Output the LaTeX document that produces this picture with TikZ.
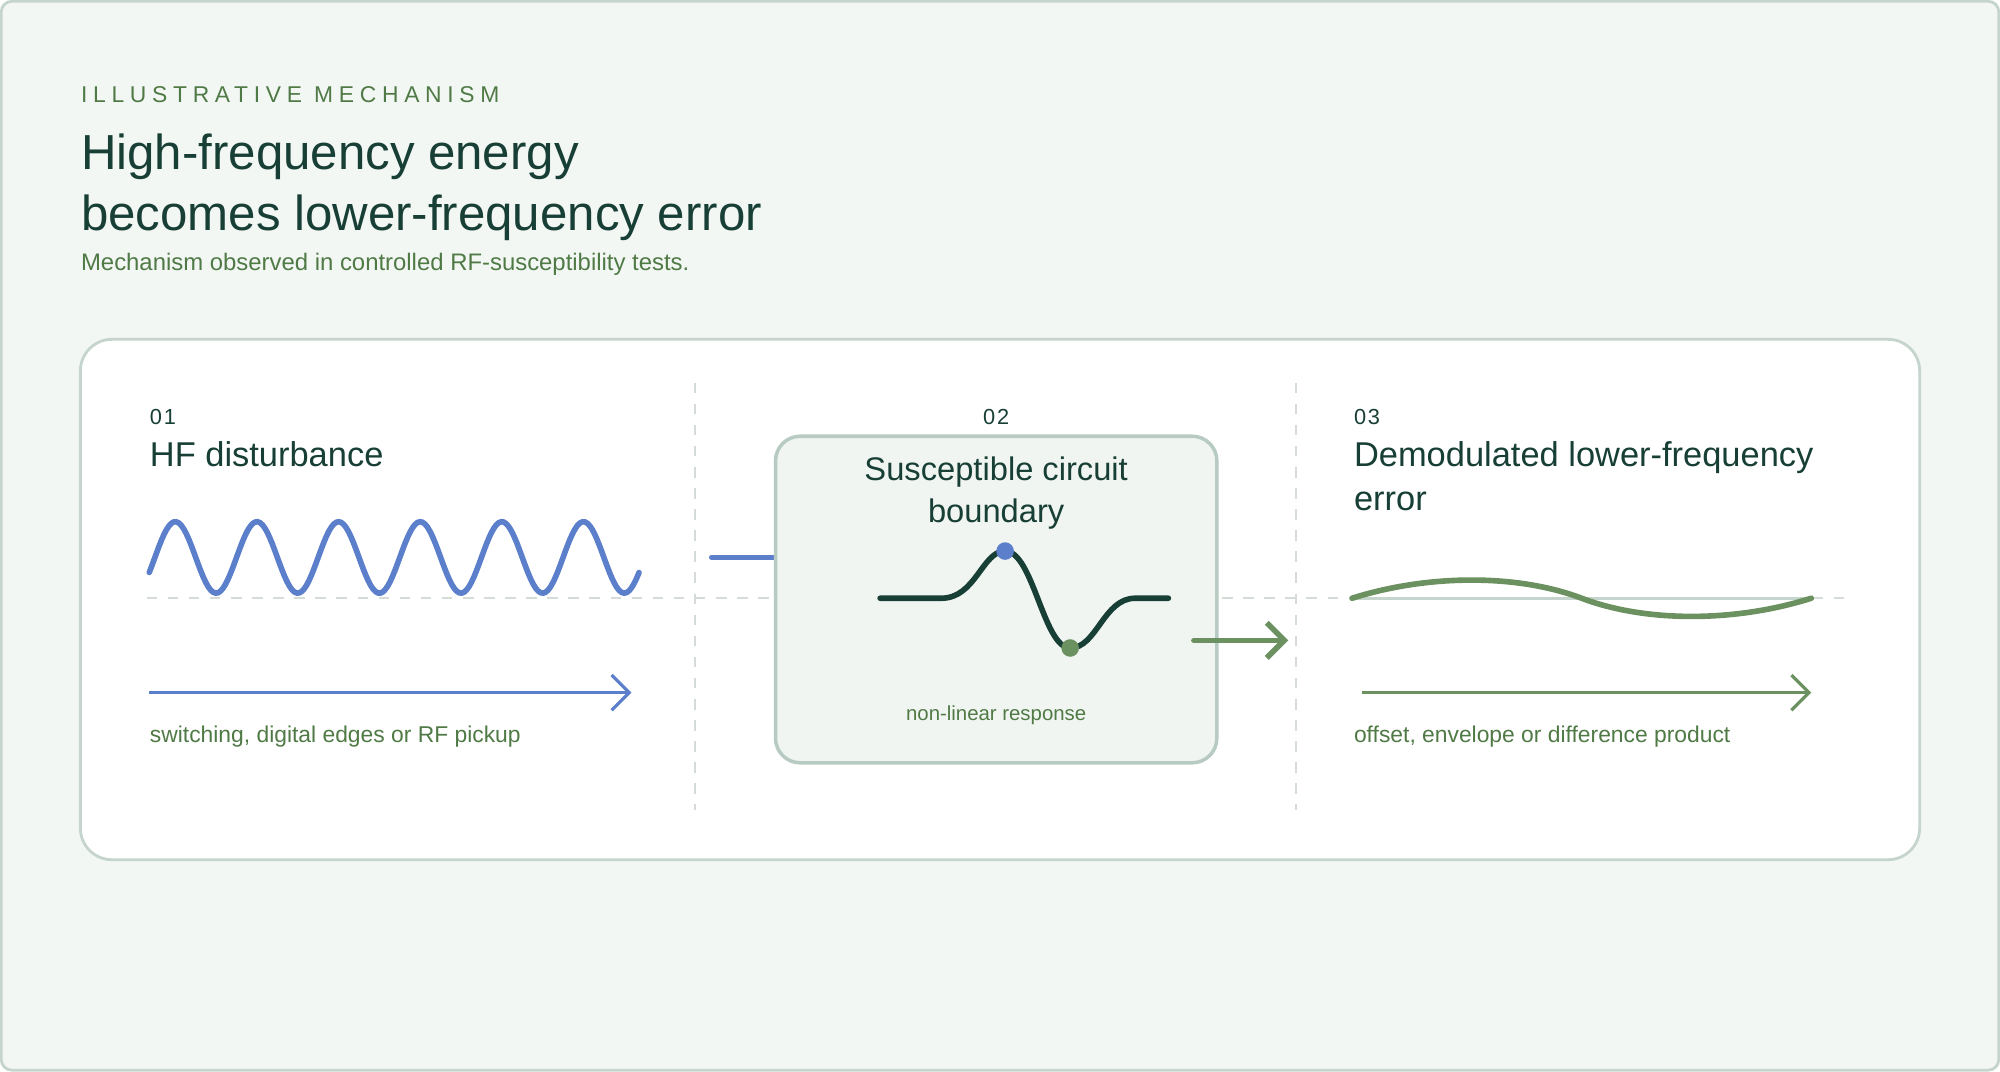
\documentclass[tikz,border=0pt]{standalone}
\usepackage{fontspec}
\setmainfont{Liberation Sans}
\usetikzlibrary{arrows.meta}
\definecolor{ink}{HTML}{173F35}
\definecolor{leaf}{HTML}{4F7A45}
\definecolor{wave}{HTML}{5B7FCA}
\definecolor{moss}{HTML}{6B9160}
\definecolor{rim}{HTML}{C5D5CD}
\definecolor{boxfill}{HTML}{F1F5F1}
\definecolor{boxrim}{HTML}{B8CBC2}
\definecolor{guide}{HTML}{D5DCD8}
\definecolor{paper}{HTML}{F3F7F4}
\tikzset{
  txt/.style={inner sep=0pt, anchor=base west},
  num/.style={txt, text=ink, font=\fontsize{6.2}{7}\selectfont\addfontfeatures{LetterSpace=8}},
  stage/.style={txt, text=ink, font=\fontsize{9.8}{12}\selectfont},
  note/.style={txt, text=leaf, font=\fontsize{6.5}{8}\selectfont},
  guideline/.style={guide, line width=0.5pt, dash pattern=on 3pt off 3pt},
  barb/.style={-{Straight Barb[length=5pt, width=10pt]}},
}
\begin{document}
\begin{tikzpicture}[x=0.012755cm, y=-0.012755cm]
    \useasboundingbox (0,0) rectangle (1568,840);
    % frame and panel
    \draw[rim, fill=paper, line width=0.8pt, rounded corners=3pt] (1,1) rectangle (1567,839);
    \draw[rim, fill=white, line width=0.8pt, rounded corners=9pt] (63,266) rectangle (1505,674);

    % heading
    \node[txt, text=leaf, font=\fontsize{6.5}{8}\selectfont\addfontfeatures{LetterSpace=25}] (kicker) at (63,80) {ILLUSTRATIVE MECHANISM};
    \node[txt, text=ink, font=\fontsize{14}{17}\selectfont] (title1) at (63,133) {High-frequency energy};
    \node[txt, text=ink, font=\fontsize{14}{17}\selectfont] (title2) at (63,181) {becomes lower-frequency error};
    \node[note, font=\fontsize{6.8}{8}\selectfont] (sub) at (63,212) {Mechanism observed in controlled RF-susceptibility tests.};

    % guides
    \draw[guideline] (115,469) -- (1450,469);
    \draw[guideline] (545,300) -- (545,635);
    \draw[guideline] (1016,300) -- (1016,635);

    % step 1
    \node[num] (n1) at (117,333) {01};
    \node[stage] (s1) at (117,366) {HF disturbance};
    \draw[wave, line width=1.6pt, line cap=round, domain=0:384, samples=200]
        plot ({117+\x}, {437 - 28*sin(5.625*\x - 25)});
    \coordinate (a1) at (117,543);
    \coordinate (b1) at (495,543);
    \draw[wave, line width=0.9pt, barb] (a1) -- (b1);
    \node[note] (l1) at (117,582) {switching, digital edges or RF pickup};

    % step 2
    \coordinate (a2) at (558,437);
    \coordinate (b2) at (628,437);
    \draw[wave, line width=1.6pt, barb, line cap=round] (a2) -- (b2);
    \draw[boxrim, fill=boxfill, line width=1pt, rounded corners=7pt] (608,342) rectangle (954,598);
    \node[num, anchor=base] (n2) at (781,333) {02};
    \node[stage, anchor=base, font=\fontsize{9.3}{12}\selectfont] (s2a) at (781,377) {Susceptible circuit};
    \node[stage, anchor=base, font=\fontsize{9.3}{12}\selectfont] (s2b) at (781,410) {boundary};
    \draw[ink, line width=1.6pt, line cap=round] (690,469) -- (738,469)
        .. controls (765,469) and (770,432) .. (788,432)
        .. controls (810,432) and (818,508) .. (839,508)
        .. controls (860,508) and (865,469) .. (890,469) -- (916,469);
    \node[circle, fill=wave, inner sep=0pt, minimum size=5pt] (peak) at (788,432) {};
    \node[circle, fill=moss, inner sep=0pt, minimum size=5pt] (dip) at (839,508) {};
    \node[note, anchor=base, font=\fontsize{5.8}{7}\selectfont] (l2) at (781,565) {non-linear response};
    \coordinate (a3) at (936,502);
    \coordinate (b3) at (1010,502);
    \draw[moss, line width=1.6pt, barb, line cap=round] (a3) -- (b3);

    % step 3
    \node[num] (n3) at (1061,333) {03};
    \node[stage] (s3a) at (1061,366) {Demodulated lower-frequency};
    \node[stage] (s3b) at (1061,400) {error};
    \draw[rim, line width=0.8pt] (1060,469) -- (1420,469);
    \draw[moss, line width=1.6pt, line cap=round] (1060,469)
        .. controls (1120,450) and (1190,450) .. (1240,469)
        .. controls (1290,488) and (1360,488) .. (1420,469);
    \coordinate (a4) at (1068,543);
    \coordinate (b4) at (1420,543);
    \draw[moss, line width=0.9pt, barb] (a4) -- (b4);
    \node[note] (l3) at (1061,582) {offset, envelope or difference product};
\end{tikzpicture}
\end{document}
